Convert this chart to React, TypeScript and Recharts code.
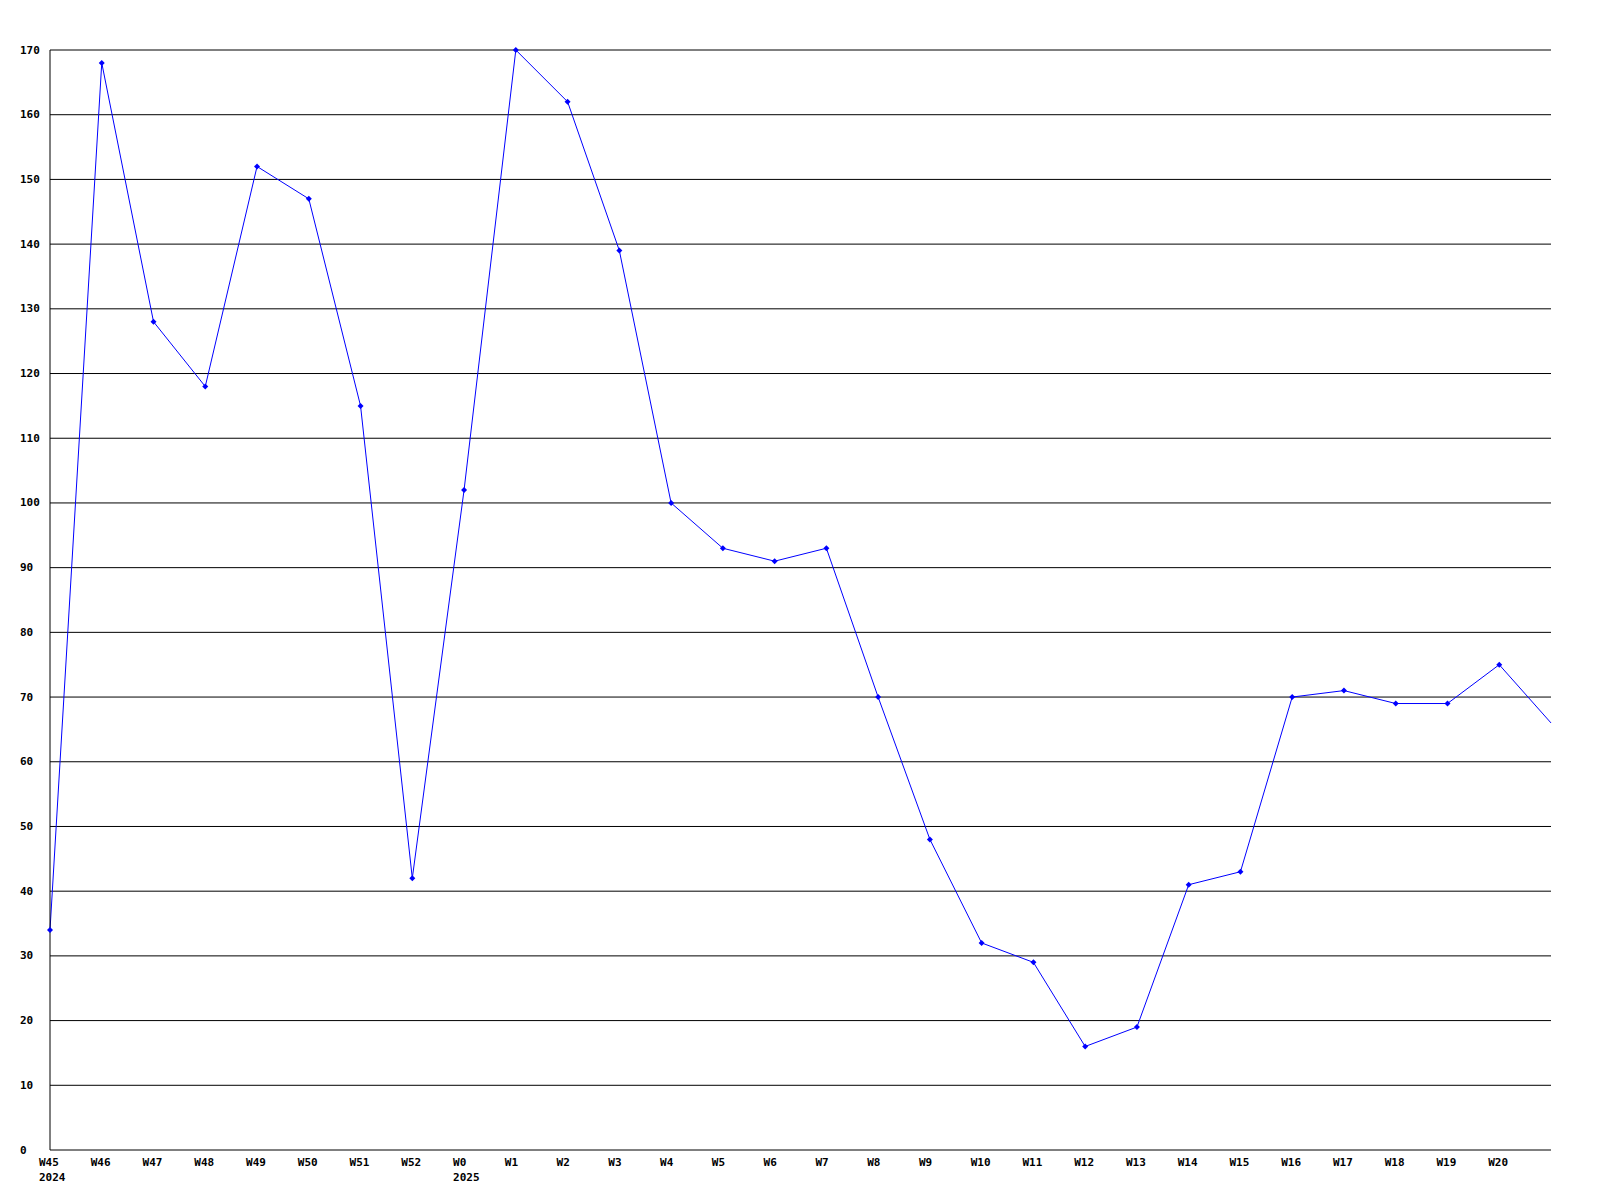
import { CartesianGrid, Line, LineChart, XAxis, YAxis } from 'recharts';

const weeks = [
  'W45', 'W46', 'W47', 'W48', 'W49', 'W50', 'W51', 'W52',
  'W0', 'W1', 'W2', 'W3', 'W4', 'W5', 'W6', 'W7', 'W8', 'W9', 'W10',
  'W11', 'W12', 'W13', 'W14', 'W15', 'W16', 'W17', 'W18', 'W19', 'W20', '',
];
const years = ['2024', '', '', '', '', '', '', '', '2025'];
const counts = [
  34, 168, 128, 118, 152, 147, 115, 42,
  102, 170, 162, 139, 100, 93, 91, 93, 70, 48, 32,
  29, 16, 19, 41, 43, 70, 71, 69, 69, 75, 66,
];
const yTicks = [0, 10, 20, 30, 40, 50, 60, 70, 80, 90, 100, 110, 120, 130, 140, 150, 160, 170];

const data = weeks.map((w, i) => ({ key: i, week: w, year: years[i] ?? '', value: counts[i] }));

const font = { fontFamily: '"DejaVu Sans Mono", monospace', fontWeight: 700, fontSize: 11, fill: '#000' };

function WeekTick(props: any) {
  const { x, y, payload } = props;
  const row = data[payload.index] ?? data[payload.value];
  if (!row) return null;
  return (
    <g>
      <text x={x - 11} y={y + 4} textAnchor="start" dominantBaseline="central" {...font}>
        {row.week}
      </text>
      {row.year && (
        <text x={x - 11} y={y + 19} textAnchor="start" dominantBaseline="central" {...font}>
          {row.year}
        </text>
      )}
    </g>
  );
}

function ValueTick(props: any) {
  const { y, payload } = props;
  return (
    <text x={20} y={y} textAnchor="start" dominantBaseline="central" {...font}>
      {payload.value}
    </text>
  );
}

function Marker(props: any) {
  const { cx, cy, index } = props;
  if (index === counts.length - 1) return <g key={index} />;
  return (
    <path
      key={index}
      d={`M${cx - 3},${cy} L${cx},${cy - 3} L${cx + 3},${cy} L${cx},${cy + 3} Z`}
      fill="#0000ff"
    />
  );
}

export default function App() {
  return (
    <div style={{ position: 'absolute', left: 0, top: 0, background: '#fff' }}>
      <LineChart width={1600} height={1200} data={data} margin={{ top: 50, right: 49, bottom: 0, left: 0 }}>
        <CartesianGrid vertical={false} stroke="#000" strokeOpacity={1} />
        <XAxis
          dataKey="key"
          type="category"
          height={50}
          axisLine={false}
          tickLine={false}
          interval={0}
          tick={<WeekTick />}
        />
        <YAxis
          width={50}
          domain={[0, 170]}
          ticks={yTicks}
          interval={0}
          axisLine={{ stroke: '#000' }}
          tickLine={false}
          tick={<ValueTick />}
        />
        <Line
          type="linear"
          dataKey="value"
          stroke="#0000ff"
          strokeWidth={1}
          dot={<Marker />}
          activeDot={false}
          isAnimationActive={false}
        />
      </LineChart>
    </div>
  );
}
